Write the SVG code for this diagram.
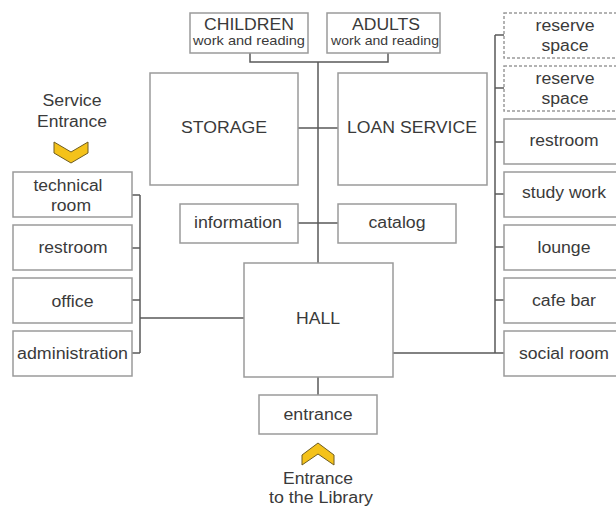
<svg xmlns="http://www.w3.org/2000/svg" width="616" height="508" viewBox="0 0 616 508">
<style>
.box{fill:#fff;stroke:#9a9a9a;stroke-width:1.5}
.dash{fill:#fff;stroke:#9a9a9a;stroke-width:1.5;stroke-dasharray:3 2}
.lbl{font-family:"Liberation Sans",Arial,sans-serif;font-size:16px;fill:#3a3a3a;text-anchor:middle}
.sm{font-size:13.5px}
.con{fill:none;stroke:#5a5a5a;stroke-width:1.5}
.chev{fill:#f4c21a;stroke:#6e5d22;stroke-width:1;stroke-linejoin:miter}
</style>
<rect width="616" height="508" fill="#fff"/>
<g id="connectors">
<path class="con" d="M250,53V62H388V53M318,62V263"/>
<path class="con" d="M298,128H338M298,223H338M318,377V395"/>
<path class="con" d="M132,195H140M132,248H140M132,300H140M132,353H140M140,195V353M140,318H244"/>
<path class="con" d="M495,35V353M495,35H504M495,88H504M495,142H504M495,194H504M495,247H504M495,300H504M495,353H504M393,353H495"/>
</g>
<g id="children"><rect class="box" x="190" y="13" width="118" height="40"/><text class="lbl" x="249" y="30" textLength="90" lengthAdjust="spacingAndGlyphs">CHILDREN</text><text class="lbl sm" x="249" y="45" textLength="112" lengthAdjust="spacingAndGlyphs">work and reading</text></g>
<g id="adults"><rect class="box" x="327" y="13" width="113" height="40"/><text class="lbl" x="386" y="30" textLength="68" lengthAdjust="spacingAndGlyphs">ADULTS</text><text class="lbl sm" x="385" y="45" textLength="108" lengthAdjust="spacingAndGlyphs">work and reading</text></g>
<g id="storage"><rect class="box" x="150" y="73" width="148" height="112"/><text class="lbl" x="224" y="133" textLength="86" lengthAdjust="spacingAndGlyphs">STORAGE</text></g>
<g id="loan"><rect class="box" x="338" y="73" width="149" height="112"/><text class="lbl" x="412" y="133" textLength="130" lengthAdjust="spacingAndGlyphs">LOAN SERVICE</text></g>
<g id="information"><rect class="box" x="180" y="204" width="118" height="39"/><text class="lbl" x="238" y="228" textLength="88" lengthAdjust="spacingAndGlyphs">information</text></g>
<g id="catalog"><rect class="box" x="338" y="204" width="118" height="39"/><text class="lbl" x="397" y="228" textLength="57" lengthAdjust="spacingAndGlyphs">catalog</text></g>
<g id="hall"><rect class="box" x="244" y="263" width="149" height="114"/><text class="lbl" x="318" y="324" textLength="44" lengthAdjust="spacingAndGlyphs">HALL</text></g>
<g id="entrance"><rect class="box" x="259" y="395" width="118" height="39"/><text class="lbl" x="318" y="420" textLength="69" lengthAdjust="spacingAndGlyphs">entrance</text></g>
<g id="library-entrance"><polygon class="chev" points="302,455 318,443 334,455 334,465 318,454 302,465"/><text class="lbl" x="318" y="484" textLength="70" lengthAdjust="spacingAndGlyphs">Entrance</text><text class="lbl" x="321" y="503" textLength="104" lengthAdjust="spacingAndGlyphs">to the Library</text></g>
<g id="service-entrance"><text class="lbl" x="72" y="106" textLength="59" lengthAdjust="spacingAndGlyphs">Service</text><text class="lbl" x="72" y="127" textLength="70" lengthAdjust="spacingAndGlyphs">Entrance</text><polygon class="chev" points="54,142 71,152 88,142 88,153 71,163 54,153"/></g>
<g id="technical-room"><rect class="box" x="13" y="172" width="119" height="45"/><text class="lbl" x="68" y="191" textLength="69" lengthAdjust="spacingAndGlyphs">technical</text><text class="lbl" x="71" y="211" textLength="40" lengthAdjust="spacingAndGlyphs">room</text></g>
<g id="restroom-left"><rect class="box" x="13" y="225" width="119" height="45"/><text class="lbl" x="73" y="253" textLength="69" lengthAdjust="spacingAndGlyphs">restroom</text></g>
<g id="office"><rect class="box" x="13" y="278" width="119" height="45"/><text class="lbl" x="72.5" y="307" textLength="42" lengthAdjust="spacingAndGlyphs">office</text></g>
<g id="administration"><rect class="box" x="13" y="331" width="119" height="45"/><text class="lbl" x="72.5" y="359" textLength="111" lengthAdjust="spacingAndGlyphs">administration</text></g>
<g id="reserve1"><rect class="dash" x="504" y="13" width="118" height="45"/><text class="lbl" x="565" y="31" textLength="59" lengthAdjust="spacingAndGlyphs">reserve</text><text class="lbl" x="565" y="51" textLength="47" lengthAdjust="spacingAndGlyphs">space</text></g>
<g id="reserve2"><rect class="dash" x="504" y="66" width="118" height="45"/><text class="lbl" x="565" y="84" textLength="59" lengthAdjust="spacingAndGlyphs">reserve</text><text class="lbl" x="565" y="104" textLength="47" lengthAdjust="spacingAndGlyphs">space</text></g>
<g id="restroom-right"><rect class="box" x="504" y="119" width="118" height="45"/><text class="lbl" x="564" y="146" textLength="69" lengthAdjust="spacingAndGlyphs">restroom</text></g>
<g id="study-work"><rect class="box" x="504" y="172" width="118" height="45"/><text class="lbl" x="564" y="198" textLength="84" lengthAdjust="spacingAndGlyphs">study work</text></g>
<g id="lounge"><rect class="box" x="504" y="225" width="118" height="45"/><text class="lbl" x="564" y="253" textLength="53" lengthAdjust="spacingAndGlyphs">lounge</text></g>
<g id="cafe-bar"><rect class="box" x="504" y="278" width="118" height="45"/><text class="lbl" x="564" y="306" textLength="64" lengthAdjust="spacingAndGlyphs">cafe bar</text></g>
<g id="social-room"><rect class="box" x="504" y="331" width="118" height="45"/><text class="lbl" x="564" y="359" textLength="90" lengthAdjust="spacingAndGlyphs">social room</text></g>
</svg>
